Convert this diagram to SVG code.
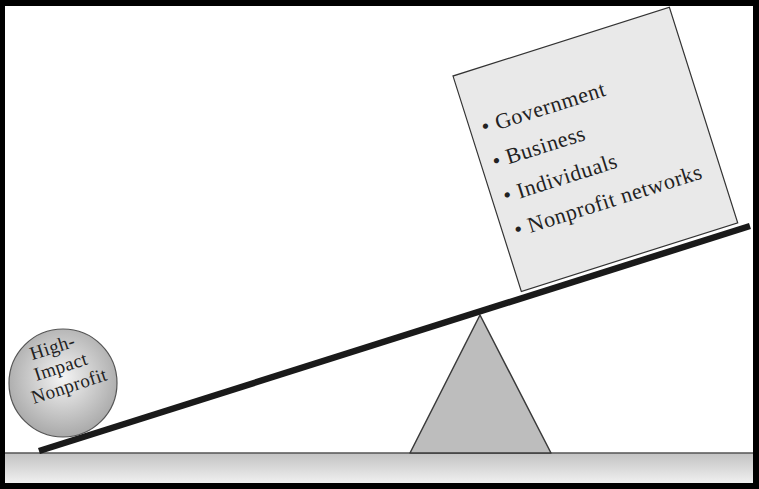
<svg xmlns="http://www.w3.org/2000/svg" width="759" height="489" viewBox="0 0 759 489">
  <defs>
    <linearGradient id="groundGrad" x1="0" y1="0" x2="0" y2="1">
      <stop offset="0" stop-color="#c2c2c2"/>
      <stop offset="1" stop-color="#f0f0f0"/>
    </linearGradient>
    <radialGradient id="ballGrad" cx="0.5" cy="0.45" r="0.55">
      <stop offset="0" stop-color="#f4f4f4"/>
      <stop offset="1" stop-color="#a9a9a9"/>
    </radialGradient>
    <style>
      .serif { font-family: "Liberation Serif", "DejaVu Serif", serif; fill: #222; }
      .boxtext { font-size: 22px; letter-spacing: 0.5px; }
      .balltext { font-size: 19px; letter-spacing: 0.4px; text-anchor: middle; }
    </style>
  </defs>

  <g id="frame">
    <rect x="0" y="0" width="759" height="489" fill="#000"/>
    <rect x="5" y="6" width="748" height="477" fill="#fff"/>
  </g>

  <g id="ground">
    <rect x="5" y="453" width="748" height="30" fill="url(#groundGrad)"/>
    <line x1="5" y1="453" x2="753" y2="453" stroke="#555" stroke-width="1.5"/>
  </g>

  <g id="fulcrum">
    <polygon points="480,315 410,453 551,453" fill="#bdbdbd" stroke="#3a3a3a" stroke-width="1.5" stroke-linejoin="round"/>
  </g>

  <g id="stakeholders">
    <g transform="translate(453,76) rotate(-17.6)">
      <rect x="0" y="0" width="227" height="226" fill="#e9e9e9" stroke="#333" stroke-width="1.2"/>
      <text class="serif boxtext" x="12" y="65">• Government</text>
      <text class="serif boxtext" x="12" y="101">• Business</text>
      <text class="serif boxtext" x="12" y="137">• Individuals</text>
      <text class="serif boxtext" x="12" y="173">• Nonprofit networks</text>
    </g>
  </g>

  <g id="plank">
    <line x1="39" y1="451" x2="750" y2="226" stroke="#1a1a1a" stroke-width="6.5"/>
  </g>

  <g id="nonprofit-ball">
    <circle cx="63" cy="383" r="54" fill="url(#ballGrad)" stroke="#555" stroke-width="1.2"/>
    <g transform="translate(63,383) rotate(-18)">
      <text class="serif balltext" x="1" y="-31">High-</text>
      <text class="serif balltext" x="3" y="-10">Impact</text>
      <text class="serif balltext" x="5" y="11">Nonprofit</text>
    </g>
  </g>
</svg>
